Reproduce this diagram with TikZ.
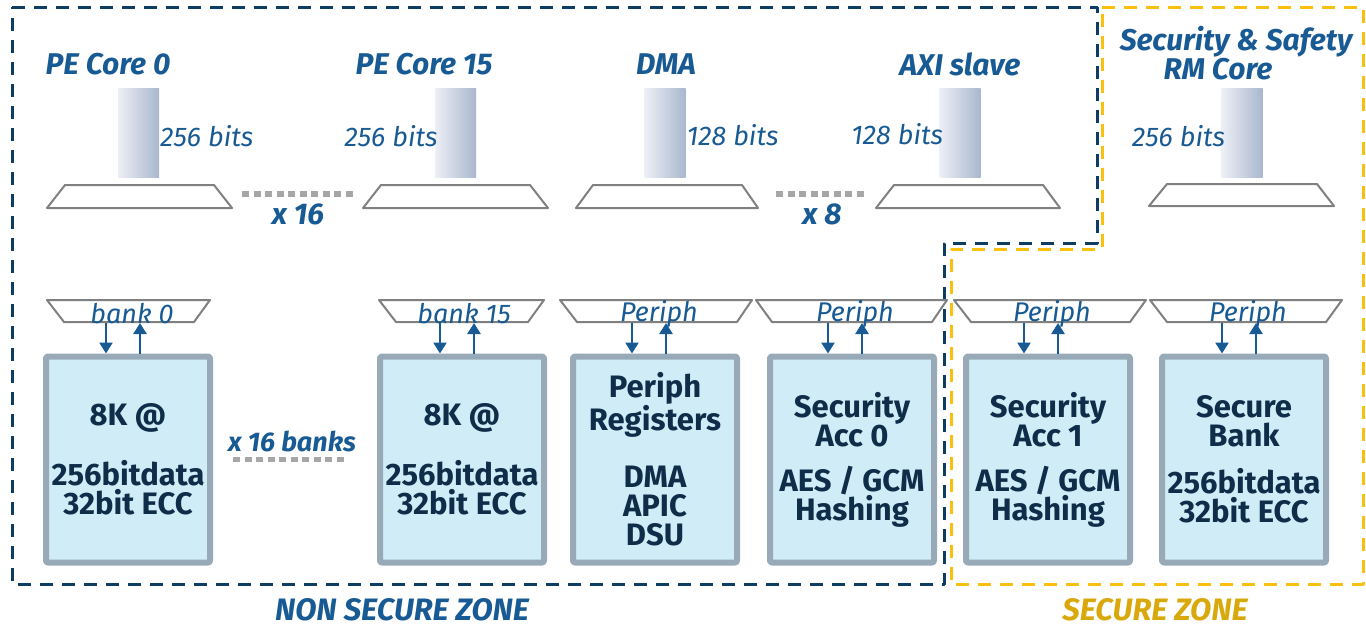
\documentclass[tikz,border=0pt]{standalone}
\usepackage{fontspec}
\setmainfont{Fira Sans}
\usetikzlibrary{arrows.meta}
\usetikzlibrary{positioning}
\definecolor{zoneblue}{HTML}{0E3D63}
\definecolor{zoneyellow}{HTML}{FBBF10}
\definecolor{titleblue}{HTML}{185A93}
\definecolor{boxtext}{HTML}{0F2C49}
\definecolor{boxfill}{HTML}{D0ECF7}
\definecolor{boxgray}{HTML}{98AAB7}
\definecolor{trapgray}{HTML}{808080}
\definecolor{dotgray}{HTML}{A6A6A6}
\definecolor{zonegold}{HTML}{D9A90B}
\definecolor{barleft}{HTML}{EDEFF6}
\definecolor{barright}{HTML}{A9B7CE}

\begin{document}
\begin{tikzpicture}[x=1pt, y=-1pt, line join=round,
  zone/.style={line width=3pt, dash pattern=on 13pt off 9pt},
  title/.style={font=\fontsize{30}{24}\selectfont\bfseries\itshape, text=titleblue, inner sep=0pt},
  bits/.style={font=\fontsize{27}{27}\selectfont\itshape, text=titleblue, inner sep=0pt},
  bar/.style={minimum width=41pt, minimum height=89pt, inner sep=0pt, left color=barleft, right color=barright},
  mux/.style={draw=trapgray, line width=2pt},
  mem/.style={rectangle, draw=boxgray, line width=6pt, fill=boxfill, rounded corners=2pt, minimum width=164pt, minimum height=206pt, align=center, font=\fontsize{31}{29}\selectfont\bfseries, text=boxtext},
  arr/.style={titleblue, line width=2.5pt, -{Triangle[width=13pt,length=11pt]}},
  dots/.style={dotgray, line width=5.5pt, dash pattern=on 7pt off 4.5pt}]
  \useasboundingbox (0,0) rectangle (1366,627);

  % zones
  \draw[zone, zoneblue] (12,7) -- (1097,7) -- (1097,243) -- (944,243) -- (944,584) -- (12,584) -- cycle;
  \draw[zone, zoneyellow] (1102,7) -- (1363,7) -- (1363,584) -- (951,584) -- (951,249) -- (1102,249) -- cycle;

  % masters
  \node[title] (pe0) at (108,64) {PE Core 0};
  \node[title] (pe15) at (424,64) {PE Core 15};
  \node[title] (dma) at (666,64) {DMA};
  \node[title] (axi) at (960,64) {AXI slave};
  \node[title, align=center] (rm) at (1236,53) {Security \& Safety\\RM Core\hspace*{36pt}};

  \node[bar] (b0) at (138.5,132.5) {};
  \node[bar] (b15) at (455.5,132.5) {};
  \node[bar] (bdma) at (665,132.5) {};
  \node[bar] (baxi) at (960,132.5) {};
  \node[bar] (brm) at (1242,132.5) {};

  \node[bits, right=1pt of b0, yshift=-4pt] (w0) {256 bits};
  \node[bits, left=-3pt of b15, yshift=-4pt] (w15) {256 bits};
  \node[bits, right=1pt of bdma, yshift=-3pt] (wdma) {128 bits};
  \node[bits, left=-4pt of baxi, yshift=-2pt] (waxi) {128 bits};
  \node[bits, left=-4pt of brm, yshift=-4pt] (wrm) {256 bits};

  \draw[mux] (65,185) -- (214,185) -- (232,208) -- (47,208) -- cycle;
  \draw[mux] (381,185) -- (530,185) -- (548,208) -- (363,208) -- cycle;
  \draw[mux] (593,185) -- (742,185) -- (758,208) -- (576,208) -- cycle;
  \draw[mux] (894,185) -- (1043,185) -- (1060,208) -- (876,208) -- cycle;
  \draw[mux] (1167,184) -- (1317,184) -- (1334,206) -- (1149,206) -- cycle;
  \coordinate (u0) at (242,194);
  \coordinate (u15) at (355,194);
  \coordinate (udma) at (776,194);
  \coordinate (uaxi) at (866,194);

  \draw[dots] (u0) -- (u15);
  \draw[dots] (udma) -- (uaxi);
  \node[title] (n16) at (298,214) {x 16};
  \node[title] (n8) at (822,214) {x 8};

  % slaves
  \draw[mux] (47,300) -- (210,300) -- (194,322) -- (64,322) -- cycle;
  \draw[mux] (379,300) -- (544,300) -- (528,322) -- (396,322) -- cycle;
  \draw[mux] (560,300) -- (752,300) -- (737,322) -- (577,322) -- cycle;
  \draw[mux] (756,300) -- (947,300) -- (932,322) -- (772,322) -- cycle;
  \draw[mux] (954,300) -- (1146,300) -- (1130,322) -- (971,322) -- cycle;
  \draw[mux] (1150,300) -- (1342,300) -- (1326,322) -- (1167,322) -- cycle;
  \coordinate (l0) at (128.5,323);
  \coordinate (l15) at (461.5,323);
  \coordinate (lp1) at (656,323);
  \coordinate (lp2) at (851.5,323);
  \coordinate (lp3) at (1050,323);
  \coordinate (lp4) at (1246,323);

  \node[bits] (t0) at (132,314) {bank 0};
  \node[bits] (t15) at (464,314) {bank 15};
  \node[bits] (tp1) at (659,314) {Periph};
  \node[bits] (tp2) at (855,314) {Periph};
  \node[bits] (tp3) at (1052,314) {Periph};
  \node[bits] (tp4) at (1248,314) {Periph};

  \node[mem] (m0) at (128,459.5) {8K @\\[27pt]256bitdata\\32bit ECC};
  \node[mem] (m15) at (462,459.5) {8K @\\[27pt]256bitdata\\32bit ECC};
  \node[mem] (mp) at (655,459.5) {Periph\\Registers\\[28pt]DMA\\APIC\\DSU};
  \node[mem] (ms0) at (852,459.5) {Security\\Acc 0\\[16pt]AES / GCM\\Hashing};
  \node[mem] (ms1) at (1048,459.5) {Security\\Acc 1\\[16pt]AES / GCM\\Hashing};
  \node[mem] (msb) at (1244,459.5) {Secure\\Bank\\[18pt]256bitdata\\32bit ECC};

  \draw[arr] ([xshift=-22pt]m0.north |- l0) -- ([xshift=-22pt]m0.north);
  \draw[arr] ([xshift=12pt]m0.north) -- ([xshift=12pt]m0.north |- l0);
  \draw[arr] ([xshift=-22pt]m15.north |- l15) -- ([xshift=-22pt]m15.north);
  \draw[arr] ([xshift=12pt]m15.north) -- ([xshift=12pt]m15.north |- l15);
  \draw[arr] ([xshift=-23pt]mp.north |- lp1) -- ([xshift=-23pt]mp.north);
  \draw[arr] ([xshift=11pt]mp.north) -- ([xshift=11pt]mp.north |- lp1);
  \draw[arr] ([xshift=-24pt]ms0.north |- lp2) -- ([xshift=-24pt]ms0.north);
  \draw[arr] ([xshift=10pt]ms0.north) -- ([xshift=10pt]ms0.north |- lp2);
  \draw[arr] ([xshift=-24pt]ms1.north |- lp3) -- ([xshift=-24pt]ms1.north);
  \draw[arr] ([xshift=10pt]ms1.north) -- ([xshift=10pt]ms1.north |- lp3);
  \draw[arr] ([xshift=-22pt]msb.north |- lp4) -- ([xshift=-22pt]msb.north);
  \draw[arr] ([xshift=12pt]msb.north) -- ([xshift=12pt]msb.north |- lp4);

  \draw[dots] ([xshift=20pt]m0.east) -- ([xshift=-32pt]m15.west);
  \node[title, font=\fontsize{27}{27}\selectfont\bfseries\itshape] (n16b) at (292,441) {x 16 banks};

  \node[title, font=\fontsize{31}{31}\selectfont\bfseries\itshape] (nsz) at (402,610) {NON SECURE ZONE};
  \node[title, font=\fontsize{31}{31}\selectfont\bfseries\itshape, text=zonegold] (sz) at (1155,610) {SECURE ZONE};
\end{tikzpicture}
\end{document}
